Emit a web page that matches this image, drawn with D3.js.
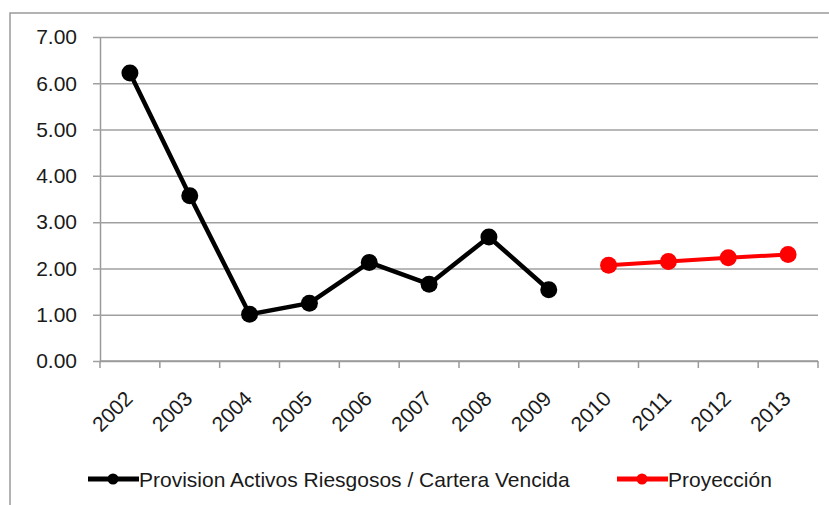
<!DOCTYPE html>
<html>
<head>
<meta charset="utf-8">
<script src="https://cdn.jsdelivr.net/npm/d3@7"></script>
<style>
  html, body { margin: 0; padding: 0; background: #fff; }
  svg { display: block; font-family: "Liberation Sans", Arial, sans-serif; }
</style>
</head>
<body>
<svg id="chart" width="829" height="505"></svg>
<script>
const years = ["2002", "2003", "2004", "2005", "2006", "2007", "2008", "2009", "2010", "2011", "2012", "2013"];
const histYears = ["2002", "2003", "2004", "2005", "2006", "2007", "2008", "2009"];
const histValues = [6.22, 3.57, 1.01, 1.25, 2.13, 1.66, 2.68, 1.54];
const projYears = ["2010", "2011", "2012", "2013"];
const projValues = [2.07, 2.15, 2.23, 2.30];
const yTicks = [0, 1, 2, 3, 4, 5, 6, 7];
const seriesNames = ["Provision Activos Riesgosos / Cartera Vencida", "Proyección"];

const margin = { top: 37, right: 11, bottom: 144, left: 100 };
const width = 829;
const height = 505;

const svg = d3.select("#chart");

// outer chart border (runs off the right and bottom of the picture)
svg.append("rect")
  .attr("x", 10)
  .attr("y", 13)
  .attr("width", 830)
  .attr("height", 500)
  .attr("fill", "none")
  .attr("stroke", "#9a9a9a")
  .attr("stroke-width", 1.5);

const x = d3.scaleBand()
  .domain(years)
  .range([margin.left, width - margin.right]);

const y = d3.scaleLinear()
  .domain([0, 7])
  .range([height - margin.bottom, margin.top]);

// gridlines + y axis
const yAxis = svg.append("g")
  .attr("transform", `translate(${margin.left},0)`)
  .call(d3.axisLeft(y)
    .tickValues(yTicks)
    .tickFormat(d3.format(".2f"))
    .tickSizeInner(-(width - margin.right - margin.left))
    .tickSizeOuter(0)
    .tickPadding(23));

yAxis.select(".domain").attr("stroke", "#9a9a9a").attr("stroke-width", 1.5);
yAxis.selectAll(".tick line")
  .attr("x1", -7)
  .attr("stroke", "#a0a0a0")
  .attr("stroke-width", 1.5);
yAxis.selectAll(".tick text")
  .attr("fill", "#1a1a1a")
  .attr("font-size", 21);

// x axis
const xAxis = svg.append("g")
  .attr("transform", `translate(0,${y(0)})`)
  .call(d3.axisBottom(x).tickSize(0).tickPadding(0));

xAxis.select(".domain").remove();
svg.append("line")
  .attr("x1", x.range()[0])
  .attr("x2", x.range()[1])
  .attr("y1", y(0))
  .attr("y2", y(0))
  .attr("stroke", "#9a9a9a")
  .attr("stroke-width", 1.5);

// tick marks sit between categories
const boundaries = years.map(function (d) { return x(d); }).concat([x.range()[1]]);
svg.selectAll(".xtick")
  .data(boundaries)
  .enter()
  .append("line")
  .attr("class", "xtick")
  .attr("x1", function (d) { return d; })
  .attr("x2", function (d) { return d; })
  .attr("y1", y(0))
  .attr("y2", y(0) + 7)
  .attr("stroke", "#9a9a9a")
  .attr("stroke-width", 1.5);

xAxis.selectAll(".tick text")
  .attr("fill", "#1a1a1a")
  .attr("font-size", 21)
  .attr("text-anchor", "end")
  .attr("dy", 0)
  .attr("transform", "translate(4,39) rotate(-45)");

function cx(d) { return x(d) + x.bandwidth() / 2; }

function drawSeries(cats, values, color, lineWidth) {
  const pts = cats.map(function (c, i) { return [c, values[i]]; });

  svg.append("path")
    .datum(pts)
    .attr("fill", "none")
    .attr("stroke", color)
    .attr("stroke-width", lineWidth)
    .attr("stroke-linejoin", "round")
    .attr("d", d3.line()
      .x(function (d) { return cx(d[0]); })
      .y(function (d) { return y(d[1]); }));

  svg.append("g")
    .selectAll("circle")
    .data(pts)
    .enter()
    .append("circle")
    .attr("cx", function (d) { return cx(d[0]); })
    .attr("cy", function (d) { return y(d[1]); })
    .attr("r", 8.5)
    .attr("fill", color);
}

drawSeries(histYears, histValues, "#000000", 4.5);
drawSeries(projYears, projValues, "#ff0000", 4);

// legend
const legendY = 479;
const legendItems = [
  { name: seriesNames[0], color: "#000000", x: 88 },
  { name: seriesNames[1], color: "#ff0000", x: 617 }
];

const legend = svg.append("g");
legendItems.forEach(function (item) {
  legend.append("line")
    .attr("x1", item.x)
    .attr("x2", item.x + 51)
    .attr("y1", legendY)
    .attr("y2", legendY)
    .attr("stroke", item.color)
    .attr("stroke-width", 5);
  legend.append("circle")
    .attr("cx", item.x + 25)
    .attr("cy", legendY)
    .attr("r", 5.5)
    .attr("fill", item.color);
  legend.append("text")
    .attr("x", item.x + 51)
    .attr("y", legendY + 7.5)
    .attr("font-size", 21)
    .attr("fill", "#1a1a1a")
    .text(item.name);
});
</script>
</body>
</html>
